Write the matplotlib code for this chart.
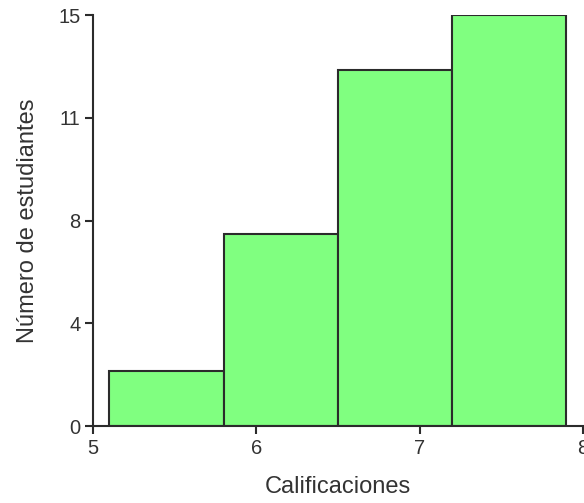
import numpy as np
import matplotlib.pyplot as plt

plt.rcParams['font.family'] = ['Liberation Sans', 'DejaVu Sans']

bin_edges = [5.1, 5.8, 6.5, 7.2, 7.9]
counts = [2, 7, 13, 15]
x_ticks = [5, 6, 7, 8]
y_ticks = [0, 3.75, 7.5, 11.25, 15]
y_tick_labels = ["0", "4", "8", "11", "15"]

fig = plt.figure(figsize=(5.84, 5.03), dpi=100)
ax = fig.add_axes([0.159, 0.153, 0.839, 0.817])

ax.hist(bin_edges[:-1], bins=bin_edges, weights=counts,
        color="#80ff80", edgecolor="#2b2b2b", linewidth=1.5)

ax.set_xlim(5, 8)
ax.set_ylim(0, 15)
ax.set_xticks(x_ticks)
ax.set_yticks(y_ticks)
ax.set_yticklabels(y_tick_labels)

for s in ["top", "right"]:
    ax.spines[s].set_visible(False)
for s in ["left", "bottom"]:
    ax.spines[s].set_linewidth(1.5)
    ax.spines[s].set_color("#2b2b2b")

ax.tick_params(direction="out", length=6, width=1.5, color="#2b2b2b",
               labelsize=14.5, labelcolor="#333333", pad=3)
ax.set_xlabel("Calificaciones", fontsize=17, color="#333333", labelpad=13)
ax.set_ylabel("Número de estudiantes", fontsize=17, color="#333333", labelpad=14)

fig.savefig("out.png", dpi=100)
